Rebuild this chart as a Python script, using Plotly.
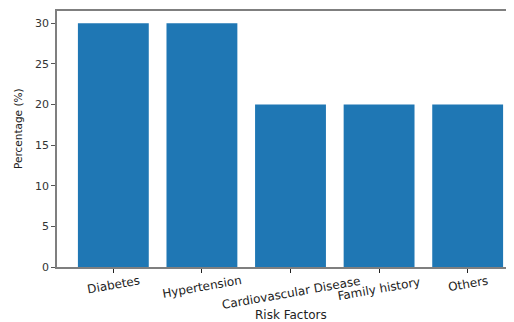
import math
import plotly.graph_objects as go

categories = ["Diabetes", "Hypertension", "Cardiovascular Disease", "Family history", "Others"]
percentages = [30, 30, 20, 20, 20]
y_ticks = [0, 5, 10, 15, 20, 25, 30]
x_title = "Risk Factors"
y_title = "Percentage (%)"

# page body has an 8px margin; work in window pixels and shift
OFF = 8
W, H = 514 - OFF, 322 - OFF
L, R, T = 57 - OFF, 0, 11 - OFF
B = H - (267 - OFF)
pw, ph = W - L - R, H - T - B


def py(win_y):
    """window pixel y -> paper fraction"""
    return ((267 - OFF) - (win_y - OFF)) / ph


def px(win_x):
    return (win_x - 57) / pw


fig = go.Figure(go.Bar(
    x=categories, y=percentages, width=0.8,
    marker=dict(color="#1f77b4", line=dict(width=0)),
))

axis_col = "#7f7f7f"
txt_col = "#222222"
TICK_FS = 12
ANGLE = 10
LABEL_TOP = 275  # window px, top of rotated label boxes

annotations = [
    dict(text=y_title, textangle=-90, xref="paper", yref="paper",
         x=px(18), y=py(129), xanchor="center", yanchor="middle",
         showarrow=False, font=dict(size=10.5, color=txt_col)),
    dict(text=x_title, xref="paper", yref="paper",
         x=px(291), y=py(315), xanchor="center", yanchor="middle",
         showarrow=False, font=dict(size=12, color=txt_col)),
]
a = math.radians(ANGLE)
for c in categories:
    w = len(c) * 6.3
    box_h = w * math.sin(a) + TICK_FS * math.cos(a)
    annotations.append(dict(
        text=c, textangle=-ANGLE, xref="x", yref="paper", x=c,
        y=py(LABEL_TOP + box_h / 2), xanchor="center", yanchor="middle",
        showarrow=False, font=dict(size=TICK_FS, color=txt_col),
    ))

fig.update_layout(
    width=W, height=H,
    margin=dict(l=L, r=R, t=T, b=B, autoexpand=False),
    paper_bgcolor="white", plot_bgcolor="white",
    showlegend=False,
    font=dict(family="DejaVu Sans", color=txt_col),
    xaxis=dict(
        range=[-0.636, 4.523], showgrid=False, zeroline=False, automargin=False,
        showline=True, linecolor=axis_col, linewidth=1.5, mirror=True,
        ticks="outside", ticklen=4, tickcolor=txt_col, tickwidth=1,
        showticklabels=False,
    ),
    yaxis=dict(
        range=[0, 31.5], showgrid=False, zeroline=False, automargin=False,
        showline=True, linecolor=axis_col, linewidth=1.5, mirror=False,
        ticks="outside", ticklen=4, tickcolor="#555555", tickwidth=1,
        tickvals=y_ticks, tickfont=dict(size=11, color="#333333"),
    ),
    annotations=annotations,
)

fig.write_html("out.html")
